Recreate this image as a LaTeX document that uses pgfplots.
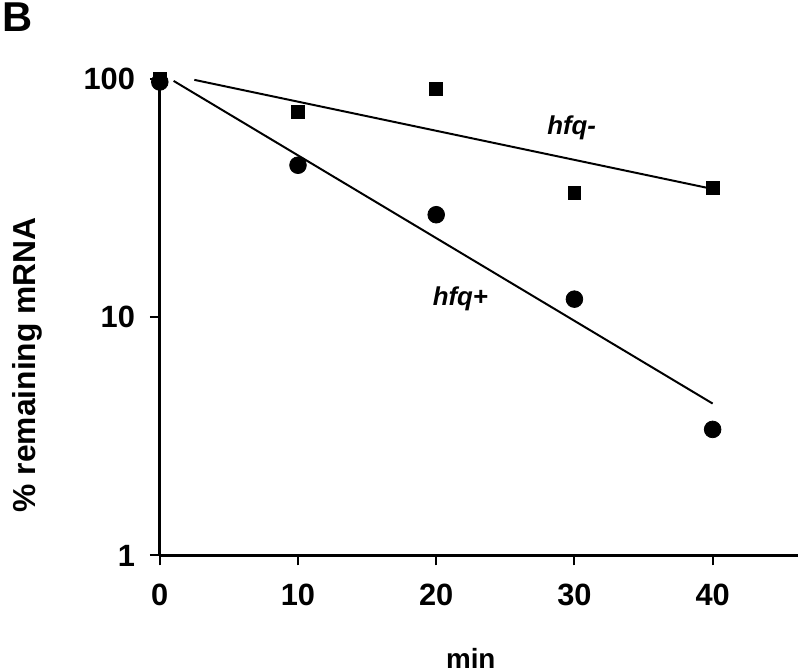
\documentclass[border=0pt]{standalone}
\usepackage{pgfplots}
\pgfplotsset{compat=1.18}
\usepackage{fontspec}
\setmainfont{Liberation Sans}
\begin{document}
\begin{tikzpicture}
\begin{axis}[
    scale only axis,
    width=321.5pt, height=240pt,
    ymode=log,
    xmin=0, xmax=46.2,
    ymin=1, ymax=100,
    clip=false,
    axis x line*=bottom, axis y line*=left,
    axis line style={line width=1.7pt,-},
    xtick={0,10,20,30,40},
    ytick={1,10,100},
    yticklabels={1,10,100},
    yminorticks=false,
    tick align=outside,
    major tick length=5pt,
    tick style={line width=1pt, black},
    tick label style={font=\fontsize{15.5}{15.5}\selectfont\bfseries},
    /pgf/number format/assume math mode=true,
    xticklabel style={yshift=-6pt},
    yticklabel style={xshift=-4pt},
    xlabel={min},
    ylabel={\% remaining mRNA},
    xlabel style={at={(axis description cs:0.487,-0.217)}, anchor=center, inner sep=1.5pt,
        font=\fontsize{14}{14}\selectfont\bfseries},
    ylabel style={at={(axis description cs:-0.208,0.4)}, anchor=center, inner sep=0pt,
        font=\fontsize{16}{16}\selectfont\bfseries},
]
% hfq- (squares)
\addplot[only marks, mark=square*, mark size=3.2pt, black]
    coordinates {(0,100) (10,72.9) (20,90.9) (30,33.2) (40,34.8)};
% hfq+ (circles)
\addplot[only marks, mark=*, mark size=4.2pt, black]
    coordinates {(0,97) (10,43.4) (20,26.9) (30,11.9) (40,3.38)};
% fitted decay lines
\addplot[line width=1pt, black] coordinates {(2.5,99) (40,34.5)};
\addplot[line width=1pt, black] coordinates {(1.0,98) (40,4.34)};

\node[font=\fontsize{13}{13}\selectfont\bfseries\itshape] at (axis cs:29.8,62.5) {hfq-};
\node[font=\fontsize{13}{13}\selectfont\bfseries\itshape] at (axis cs:21.75,11.9) {hfq+};
\node[inner sep=1.5pt, font=\fontsize{21}{21}\selectfont\bfseries] at (axis description cs:-0.222,1.129) {B};
\end{axis}
\end{tikzpicture}
\end{document}
